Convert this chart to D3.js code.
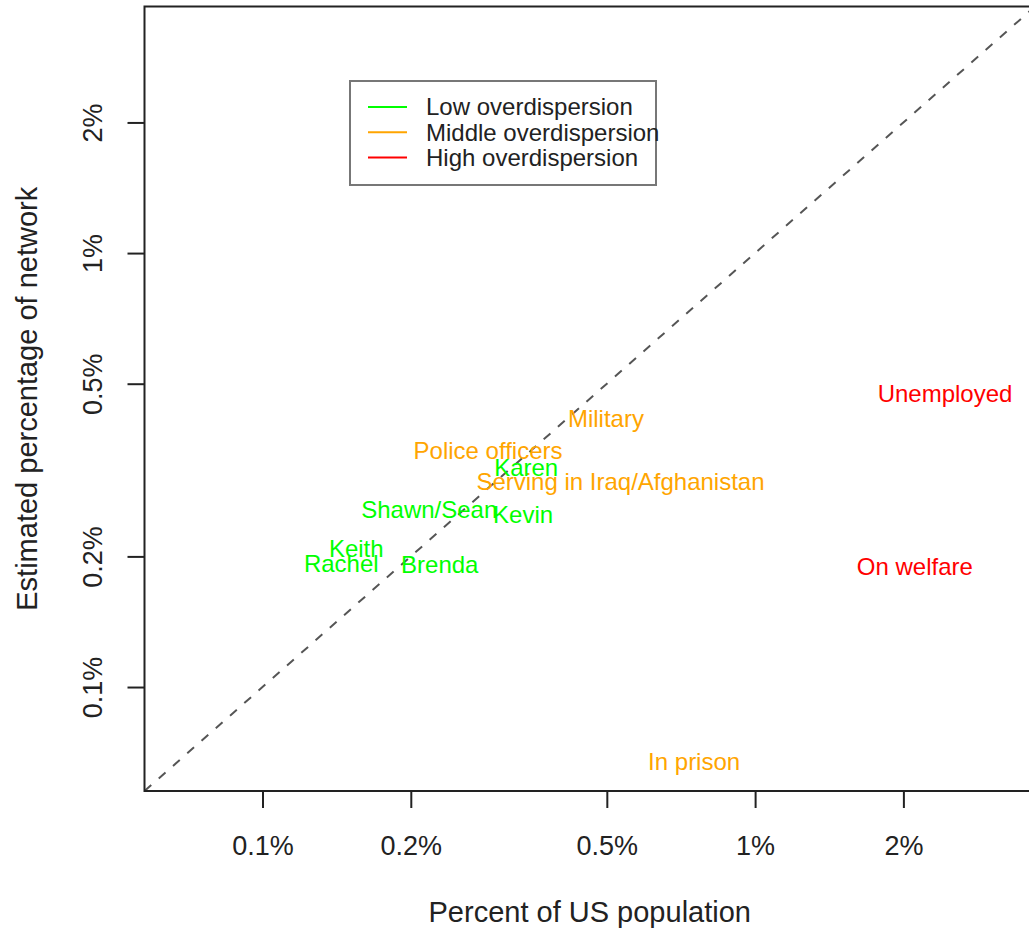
<!DOCTYPE html>
<html>
<head>
<meta charset="utf-8">
<script src="https://cdn.jsdelivr.net/npm/d3@7"></script>
<style>
  html, body { margin: 0; padding: 0; background: #fff; }
  svg { display: block; font-family: "Liberation Sans", Arial, Helvetica, sans-serif; }
</style>
</head>
<body>
<svg id="chart" width="1029" height="930"></svg>
<script>
// Groups of people: share of US population vs estimated share of a person's network (percent)
const labels = ["Unemployed", "On welfare", "In prison", "Military", "Police officers",
  "Serving in Iraq/Afghanistan", "Karen", "Kevin", "Shawn/Sean", "Keith", "Rachel", "Brenda"];
const populationPct = [2.43, 2.11, 0.752, 0.498, 0.287, 0.533, 0.343, 0.338, 0.218, 0.155, 0.1445, 0.229];
const networkPct    = [0.475, 0.189, 0.0675, 0.416, 0.351, 0.297, 0.320, 0.250, 0.256, 0.209, 0.193, 0.191];
const groups = ["High", "High", "Middle", "Middle", "Middle", "Middle", "Low", "Low", "Low", "Low", "Low", "Low"];

const legendLabels = ["Low overdispersion", "Middle overdispersion", "High overdispersion"];
const legendKeys = ["Low", "Middle", "High"];
const groupColors = { Low: "#00FF00", Middle: "#FFA500", High: "#FF0000" };

const tickValues = [0.1, 0.2, 0.5, 1, 2];
const axisDomain = [0.0576, 3.70];

const svg = d3.select("#chart");
const plot = { left: 144.5, right: 1035, top: 6.5, bottom: 791 };

const x = d3.scaleLog().domain(axisDomain).range([plot.left, plot.right]);
const y = d3.scaleLog().domain(axisDomain).range([plot.bottom, plot.top]);
const fmt = d => d + "%";

// reference line y = x
svg.append("line")
  .attr("x1", x(axisDomain[0])).attr("y1", y(axisDomain[0]))
  .attr("x2", x(axisDomain[1])).attr("y2", y(axisDomain[1]))
  .attr("stroke", "#555").attr("stroke-width", 2)
  .attr("stroke-dasharray", "9,10");

// plot frame
svg.append("rect")
  .attr("x", plot.left).attr("y", plot.top)
  .attr("width", plot.right - plot.left).attr("height", plot.bottom - plot.top)
  .attr("fill", "none").attr("stroke", "#222").attr("stroke-width", 2);

// x axis
const xAxis = svg.append("g")
  .attr("transform", `translate(0,${plot.bottom})`)
  .call(d3.axisBottom(x).tickValues(tickValues).tickFormat(fmt).tickSize(17).tickSizeOuter(0).tickPadding(28));
xAxis.select(".domain").remove();
xAxis.selectAll(".tick line").attr("stroke", "#222").attr("stroke-width", 2);
xAxis.selectAll(".tick text").attr("fill", "#222").style("font-size", "27px")
  .style("font-family", "'Liberation Sans', Arial, sans-serif");

// y axis, labels parallel to the axis
const yAxis = svg.append("g")
  .attr("transform", `translate(${plot.left},0)`)
  .call(d3.axisLeft(y).tickValues(tickValues).tickFormat(fmt).tickSize(17).tickSizeOuter(0));
yAxis.select(".domain").remove();
yAxis.selectAll(".tick line").attr("stroke", "#222").attr("stroke-width", 2);
yAxis.selectAll(".tick text")
  .attr("x", null).attr("dy", null)
  .attr("text-anchor", "middle")
  .attr("transform", `translate(${93 - plot.left},0) rotate(-90)`)
  .attr("y", 0).attr("dy", "0.35em")
  .attr("fill", "#222").style("font-size", "27px")
  .style("font-family", "'Liberation Sans', Arial, sans-serif");

// axis titles
svg.append("text")
  .attr("x", (plot.left + plot.right) / 2).attr("y", 912).attr("dy", "0.35em")
  .attr("text-anchor", "middle").attr("fill", "#222").style("font-size", "29px")
  .text("Percent of US population");
svg.append("text")
  .attr("transform", `translate(27,${(plot.top + plot.bottom) / 2}) rotate(-90)`)
  .attr("dy", "0.35em")
  .attr("text-anchor", "middle").attr("fill", "#222").style("font-size", "29px")
  .text("Estimated percentage of network");

// group labels at their positions
svg.append("g").selectAll("text")
  .data(labels)
  .join("text")
  .attr("x", (d, i) => x(populationPct[i]))
  .attr("y", (d, i) => y(networkPct[i]))
  .attr("dy", "0.35em")
  .attr("text-anchor", "middle")
  .attr("fill", (d, i) => groupColors[groups[i]])
  .style("font-size", "24px")
  .text(d => d);

// legend
const legend = svg.append("g").attr("transform", "translate(350,81)");
legend.append("rect")
  .attr("width", 306).attr("height", 104)
  .attr("fill", "#fff").attr("stroke", "#777").attr("stroke-width", 2);
const rows = legend.selectAll("g.row").data(legendLabels).join("g")
  .attr("class", "row")
  .attr("transform", (d, i) => `translate(0,${26 + i * 25.3})`);
rows.append("line")
  .attr("x1", 18).attr("x2", 57)
  .attr("stroke", (d, i) => groupColors[legendKeys[i]]).attr("stroke-width", 2);
rows.append("text")
  .attr("x", 76).attr("dy", "0.35em")
  .attr("fill", "#222").style("font-size", "24px")
  .text(d => d);
</script>
</body>
</html>
